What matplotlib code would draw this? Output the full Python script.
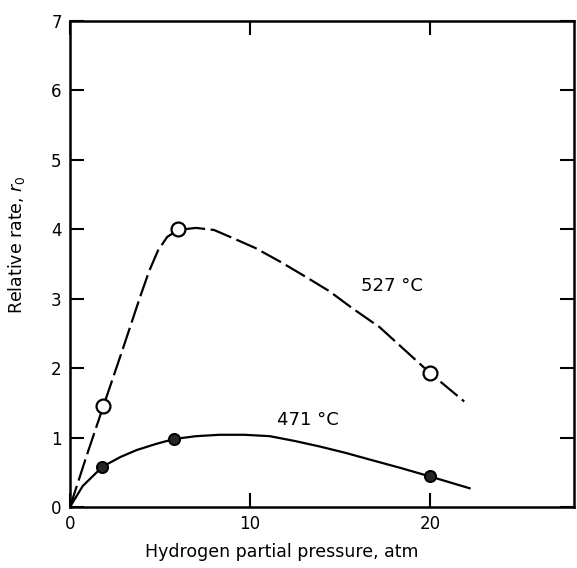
import matplotlib
matplotlib.use("Agg")
import matplotlib.pyplot as plt

# measured points
p527 = [1.85, 6.0, 20.0]
r527 = [1.45, 4.0, 1.93]
p471 = [1.8, 5.8, 20.0]
r471 = [0.58, 0.98, 0.44]

# hand-drawn curves
cx527 = [0, 0.9, 1.85, 2.9, 3.9, 4.4, 4.9, 5.4, 6.0, 7.0, 8.0, 8.9, 10.3,
         11.7, 13.0, 14.4, 15.7, 17.2, 18.6, 20.0, 21.9]
cy527 = [0, 0.72, 1.45, 2.25, 3.03, 3.40, 3.70, 3.89, 3.99, 4.02, 3.99, 3.89,
         3.73, 3.53, 3.33, 3.11, 2.86, 2.59, 2.26, 1.93, 1.52]
cx471 = [0, 0.7, 1.8, 2.8, 3.7, 4.8, 5.8, 7.0, 8.3, 9.7, 11.1, 12.5, 13.9,
         15.3, 16.7, 18.4, 20.0, 22.2]
cy471 = [0, 0.3, 0.58, 0.72, 0.82, 0.91, 0.98, 1.02, 1.04, 1.04, 1.02, 0.95,
         0.87, 0.78, 0.68, 0.56, 0.44, 0.27]

plt.rcParams['font.family'] = ['DejaVu Sans']
fig = plt.figure(figsize=(5.77, 5.68), dpi=100)
ax = fig.add_axes([70/577, 61/568, 504/577, 486/568])

ax.plot(cx527, cy527, color='black', lw=1.6, dashes=(10, 2.5))
ax.plot(cx471, cy471, color='black', lw=1.6)
ax.plot(p527, r527, 'o', ms=10, mfc='white', mec='black', mew=1.6)
ax.plot(p471, r471, 'o', ms=8, mfc='0.15', mec='black', mew=1.4)

ax.text(17.9, 3.19, '527 °C', fontsize=13, ha='center', va='center')
ax.text(13.2, 1.25, '471 °C', fontsize=13, ha='center', va='center')

ax.set_xlim(0, 28)
ax.set_ylim(0, 7)
ax.set_xticks([0, 10, 20])
ax.set_yticks(range(8))
ax.tick_params(direction='in', length=10, width=1.5, labelsize=12,
               top=True, right=True, labelright=False, labeltop=False, pad=6)
for s in ax.spines.values():
    s.set_linewidth(1.8)

ax.set_xlabel('Hydrogen partial pressure, atm', fontsize=12.5)
ax.set_ylabel('Relative rate, $r_0$', fontsize=12.5)
ax.xaxis.set_label_coords(0.42, -0.075)
ax.yaxis.set_label_coords(-0.085, 0.54)

fig.savefig('out.png', dpi=100)
